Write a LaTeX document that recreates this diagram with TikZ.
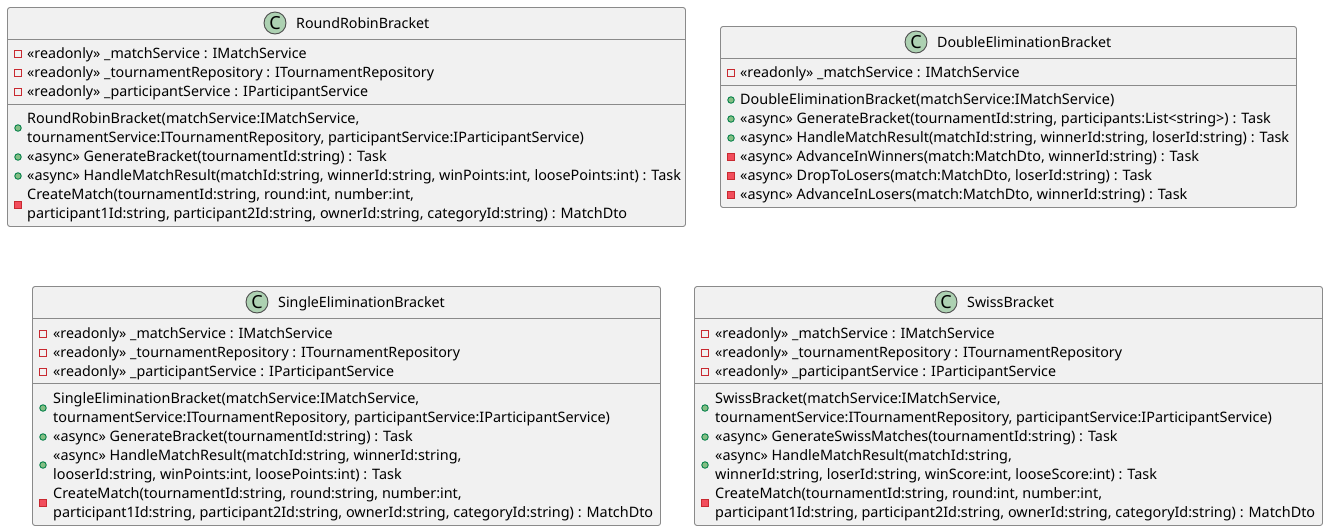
\documentclass[tikz,border=0pt]{standalone}
\usepackage{fontspec}
\setmainfont{Noto Sans}
\definecolor{boxfill}{HTML}{F1F1F1}
\definecolor{boxline}{HTML}{8A8A8A}
\definecolor{spotfill}{HTML}{ADD1B2}
\definecolor{privline}{HTML}{C82930}
\definecolor{privfill}{HTML}{F24D5C}
\definecolor{publine}{HTML}{038048}
\definecolor{pubfill}{HTML}{84BE84}
\begin{document}
\begin{tikzpicture}[x=1pt,y=-1pt,
    classbox/.style={draw=boxline,fill=boxfill,line width=0.9pt,rounded corners=2.5pt},
    sepline/.style={draw=boxline,line width=0.9pt},
    spot/.style={circle,draw=black!70,fill=spotfill,line width=0.9pt,minimum size=22pt,inner sep=0pt,font=\fontsize{18}{18}\selectfont\bfseries},
    title/.style={anchor=base west,inner sep=0pt,font=\fontsize{14.25}{17}\selectfont},
    row/.style={anchor=base west,inner sep=0pt,font=\fontsize{14.4}{17}\selectfont},
    fieldrow/.style={anchor=base west,inner sep=0pt,font=\fontsize{14.25}{17}\selectfont},
    privfield/.style={rectangle,draw=privline,fill=boxfill,line width=0.9pt,minimum size=6.5pt,inner sep=0pt},
    privmethod/.style={rectangle,draw=privline,fill=privfill,line width=0.9pt,minimum size=7pt,inner sep=0pt},
    pubmethod/.style={circle,draw=publine,fill=pubfill,line width=0.9pt,minimum size=6.5pt,inner sep=0pt}]
  \useasboundingbox (0,0) rectangle (1327,531);

  % RoundRobinBracket
  \draw[classbox] (7.5,7.5) rectangle (685.5,226.5);
  \draw[sepline] (7.5,39.5) -- (685.5,39.5);
  \draw[sepline] (7.5,104.5) -- (685.5,104.5);
  \node[spot] (rrspot) at (275,23) {C};
  \node[title] (rrtitle) at (296,28) {RoundRobinBracket};
  \foreach \y/\txt in {58/{«readonly» \_matchService : IMatchService},
      77/{«readonly» \_tournamentRepository : ITournamentRepository},
      96/{«readonly» \_participantService : IParticipantService}}{
    \node[fieldrow] (rrf\y) at (27,\y) {\txt};
    \node[privfield] (rrfm\y) at (18,\y-4) {};
  }
  \foreach \y/\txt in {123/{RoundRobinBracket(matchService:IMatchService,},
      142/{tournamentService:ITournamentRepository, participantService:IParticipantService)},
      161/{«async» GenerateBracket(tournamentId:string) : Task},
      180/{«async» HandleMatchResult(matchId:string, winnerId:string, winPoints:int, loosePoints:int) : Task},
      199/{CreateMatch(tournamentId:string, round:int, number:int,},
      218/{participant1Id:string, participant2Id:string, ownerId:string, categoryId:string) : MatchDto}}{
    \node[row] (rrm\y) at (27,\y) {\txt};
  }
  \node[pubmethod] (rrp1) at (18,128) {};
  \node[pubmethod] (rrp2) at (18,157) {};
  \node[pubmethod] (rrp3) at (18,176) {};
  \node[privmethod] (rrp4) at (18,205) {};

  % DoubleEliminationBracket
  \draw[classbox] (720.5,26.5) rectangle (1296.5,207.5);
  \draw[sepline] (720.5,58.5) -- (1296.5,58.5);
  \draw[sepline] (720.5,85.5) -- (1296.5,85.5);
  \node[spot] (despot) at (916,42) {C};
  \node[title] (detitle) at (937,47) {DoubleEliminationBracket};
  \node[fieldrow] (def) at (740,77) {«readonly» \_matchService : IMatchService};
  \node[privfield] (defm) at (731,73) {};
  \foreach \y/\txt/\mark in {104/{DoubleEliminationBracket(matchService:IMatchService)}/pubmethod,
      123/{«async» GenerateBracket(tournamentId:string, participants:List<string>) : Task}/pubmethod,
      142/{«async» HandleMatchResult(matchId:string, winnerId:string, loserId:string) : Task}/pubmethod,
      161/{«async» AdvanceInWinners(match:MatchDto, winnerId:string) : Task}/privmethod,
      180/{«async» DropToLosers(match:MatchDto, loserId:string) : Task}/privmethod,
      199/{«async» AdvanceInLosers(match:MatchDto, winnerId:string) : Task}/privmethod}{
    \node[row] (dem\y) at (740,\y) {\txt};
    \node[\mark] (dep\y) at (731,\y-4) {};
  }

  % SingleEliminationBracket
  \draw[classbox] (32.5,286.5) rectangle (660.5,525.5);
  \draw[sepline] (32.5,318.5) -- (660.5,318.5);
  \draw[sepline] (32.5,383.5) -- (660.5,383.5);
  \node[spot] (sespot) at (257,302) {C};
  \node[title] (setitle) at (278,307) {SingleEliminationBracket};
  \foreach \y/\txt in {338/{«readonly» \_matchService : IMatchService},
      357/{«readonly» \_tournamentRepository : ITournamentRepository},
      376/{«readonly» \_participantService : IParticipantService}}{
    \node[fieldrow] (sef\y) at (53,\y) {\txt};
    \node[privfield] (sefm\y) at (43,\y-4) {};
  }
  \foreach \y/\txt in {403/{SingleEliminationBracket(matchService:IMatchService,},
      422/{tournamentService:ITournamentRepository, participantService:IParticipantService)},
      441/{«async» GenerateBracket(tournamentId:string) : Task},
      460/{«async» HandleMatchResult(matchId:string, winnerId:string,},
      479/{looserId:string, winPoints:int, loosePoints:int) : Task},
      498/{CreateMatch(tournamentId:string, round:string, number:int,},
      517/{participant1Id:string, participant2Id:string, ownerId:string, categoryId:string) : MatchDto}}{
    \node[row] (sem\y) at (53,\y) {\txt};
  }
  \node[pubmethod] (sep1) at (43,408) {};
  \node[pubmethod] (sep2) at (43,437) {};
  \node[pubmethod] (sep3) at (43,465) {};
  \node[privmethod] (sep4) at (43,503) {};

  % SwissBracket
  \draw[classbox] (694.5,286.5) rectangle (1322.5,525.5);
  \draw[sepline] (694.5,318.5) -- (1322.5,318.5);
  \draw[sepline] (694.5,383.5) -- (1322.5,383.5);
  \node[spot] (swspot) at (946,302) {C};
  \node[title] (swtitle) at (967,307) {SwissBracket};
  \foreach \y/\txt in {338/{«readonly» \_matchService : IMatchService},
      357/{«readonly» \_tournamentRepository : ITournamentRepository},
      376/{«readonly» \_participantService : IParticipantService}}{
    \node[fieldrow] (swf\y) at (715,\y) {\txt};
    \node[privfield] (swfm\y) at (705,\y-4) {};
  }
  \foreach \y/\txt in {403/{SwissBracket(matchService:IMatchService,},
      422/{tournamentService:ITournamentRepository, participantService:IParticipantService)},
      441/{«async» GenerateSwissMatches(tournamentId:string) : Task},
      460/{«async» HandleMatchResult(matchId:string,},
      479/{winnerId:string, loserId:string, winScore:int, looseScore:int) : Task},
      498/{CreateMatch(tournamentId:string, round:int, number:int,},
      517/{participant1Id:string, participant2Id:string, ownerId:string, categoryId:string) : MatchDto}}{
    \node[row] (swm\y) at (715,\y) {\txt};
  }
  \node[pubmethod] (swp1) at (705,408) {};
  \node[pubmethod] (swp2) at (705,437) {};
  \node[pubmethod] (swp3) at (705,465) {};
  \node[privmethod] (swp4) at (705,503) {};
\end{tikzpicture}
\end{document}
